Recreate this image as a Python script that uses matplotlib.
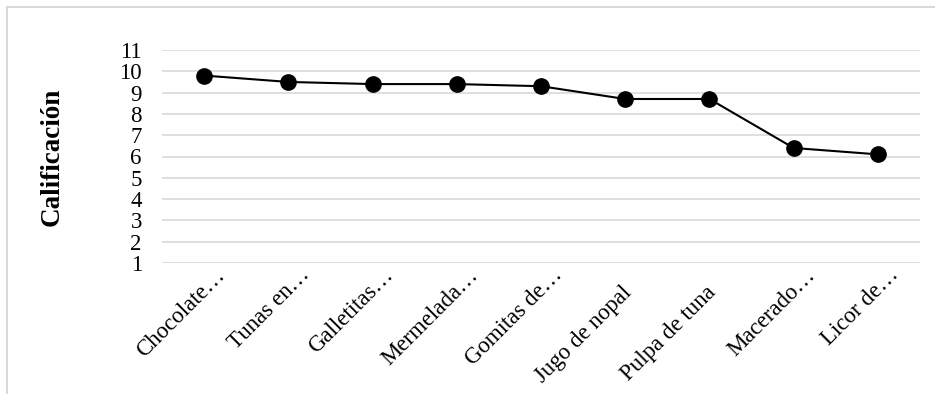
import matplotlib
matplotlib.use("Agg")
import matplotlib.pyplot as plt
from matplotlib.patches import Rectangle
from matplotlib.transforms import ScaledTranslation

plt.rcParams['font.family'] = ['Liberation Serif', 'DejaVu Serif']

productos = ["Chocolate…", "Tunas en…", "Galletitas…", "Mermelada…",
             "Gomitas de…", "Jugo de nopal", "Pulpa de tuna", "Macerado…",
             "Licor de…"]
calificacion = [9.8, 9.5, 9.4, 9.4, 9.3, 8.7, 8.7, 6.4, 6.1]
y_ticks = list(range(1, 12))

W, H = 935, 394
fig = plt.figure(figsize=(W / 100, H / 100), dpi=100)

# chart-area frame (open to the right and bottom)
fig.patches.append(Rectangle((7 / W, -0.2), 1.2, (H - 7) / H + 0.2,
                             transform=fig.transFigure, fill=False,
                             edgecolor='#d9d9d9', linewidth=1.5))

ax = fig.add_axes([162 / W, (H - 263) / H, (920 - 162) / W, (263 - 50) / H])
x = list(range(len(productos)))
ax.plot(x, calificacion, color='black', linewidth=1.5, marker='o',
        markersize=11, zorder=3)

ax.set_xlim(-0.5, len(productos) - 0.5)
ax.set_ylim(1, 11)
ax.set_yticks(y_ticks)
ax.set_yticklabels([str(v) for v in y_ticks], fontsize=16.5)
ax.yaxis.grid(True, color='#d9d9d9', linewidth=1.2)
ax.set_axisbelow(True)
for s in ax.spines.values():
    s.set_visible(False)
ax.tick_params(axis='both', length=0)
ax.tick_params(axis='y', pad=14.5)
ax.tick_params(axis='x', pad=0)

ax.set_xticks(x)
ax.set_xticklabels(productos, fontsize=16.5, rotation=45, ha='right',
                   va='baseline', rotation_mode='anchor')
for lab in ax.get_xticklabels():
    # truncated names sit further up-right along the slant
    if lab.get_text().endswith("…"):
        dx, dy = 22, -13
    else:
        dx, dy = 7, -30
    lab.set_transform(lab.get_transform() +
                      ScaledTranslation(dx / 100, dy / 100, fig.dpi_scale_trans))

fig.text(52 / W, 1 - 157 / H, "Calificación", rotation=90, fontsize=19.5,
         fontweight='bold', ha='center', va='center')

fig.savefig("out.png", dpi=100)
